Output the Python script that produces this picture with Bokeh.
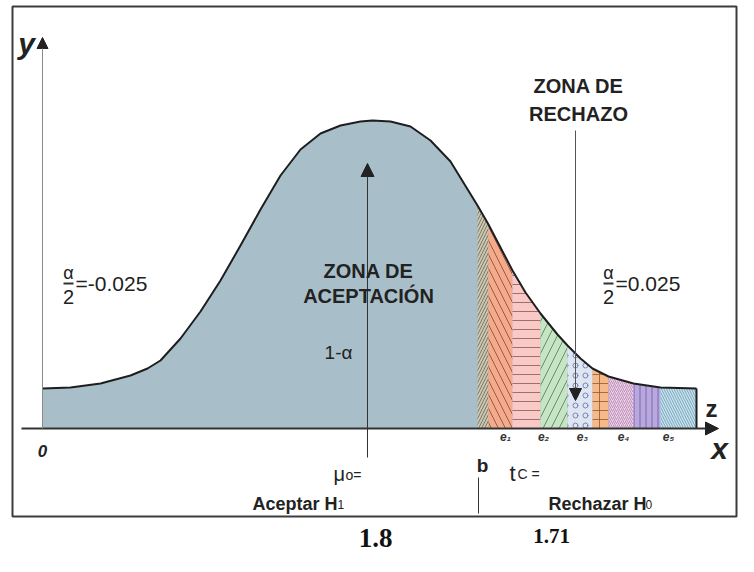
import numpy as np
from bokeh.plotting import figure
from bokeh.models import Range1d, Arrow, NormalHead, Label
from bokeh.embed import file_html
from bokeh.resources import INLINE

# Curve: horizontal position and height above the x axis
curve_x = [42, 70, 100, 130, 147, 160, 180, 200, 220, 240, 260, 280, 300, 320, 340,
           360, 372, 390, 410, 430, 450, 477, 488, 500, 512, 525, 540, 557, 567, 580,
           592, 608, 633, 660, 696]
curve_y = [40, 41, 45, 53, 60, 68, 90, 117, 148, 183, 219, 253, 279, 295, 303,
           307, 308, 307, 302, 288, 267, 223, 204, 181, 158, 136, 115, 94, 83, 70,
           60, 52, 45, 41, 40]

# Rejection-zone strips (edges along the x axis)
strip_edges = [477, 488, 512, 540, 567, 592, 608, 633, 660, 696]
strip_colors = ["#cbc6b0", "#f5aa8c", "#f9c9c7", "#c6e5c4", "#dfe5f3",
                "#f8b98a", "#f2cdea", "#b9a7e0", "#c4e6f5"]
strip_hatches = ["/", "\\", "-", "/", "o", "+", "/", "|", "\\"]
strip_hatch_colors = ["#6b6658", "#7a4a3a", "#8a5555", "#4d7a4d", "#5a6fa0",
                      "#8a5a2a", "#a888a8", "#6a5a9a", "#6f8fa0"]
strip_hatch_scales = [6, 14, 9, 16, 10, 9, 4, 6, 5]

e_labels = ["e\u2081", "e\u2082", "e\u2083", "e\u2084", "e\u2085"]
e_label_x = [505, 543, 582, 623, 668]

alpha_left = "=-0.025"
alpha_right = "=0.025"
value_mu = "1.8"
value_tc = "1.71"

FONT = "Liberation Sans"

p = figure(width=738, height=556, x_range=Range1d(0, 738), y_range=Range1d(-128, 428),
           output_backend="svg", toolbar_location=None, min_border=0)
p.axis.visible = False
p.grid.visible = False
p.outline_line_color = None
p.background_fill_color = "white"
p.border_fill_color = "white"

# outer frame
p.quad(left=12, right=736, bottom=-88, top=422, fill_color=None,
       line_color="#3c3c3c", line_width=2)

# main area under the curve
p.varea(x=curve_x, y1=0, y2=curve_y, fill_color="#a8bfca")

# hatched strips
for i in range(len(strip_edges) - 1):
    lo, hi = strip_edges[i], strip_edges[i + 1]
    xs = [x for x in curve_x if lo <= x <= hi]
    ys = [y for x, y in zip(curve_x, curve_y) if lo <= x <= hi]
    p.varea(x=xs, y1=0, y2=ys, fill_color=strip_colors[i],
            hatch_pattern=strip_hatches[i], hatch_color=strip_hatch_colors[i],
            hatch_scale=strip_hatch_scales[i], hatch_weight=0.8)

# curve outline and right edge
p.line(curve_x, curve_y, line_color="#1e1e1e", line_width=2, line_join="round")
p.segment(x0=[curve_x[-1]], y0=[0], x1=[curve_x[-1]], y1=[curve_y[-1]],
          line_color="#1e1e1e", line_width=2)

# axes
p.add_layout(Arrow(end=NormalHead(size=13, fill_color="#222222", line_color="#222222"),
                   x_start=21, y_start=0, x_end=718, y_end=0,
                   line_color="#333333", line_width=2))
p.add_layout(Arrow(end=NormalHead(size=11, fill_color="#222222", line_color="#222222"),
                   x_start=42, y_start=0, x_end=42, y_end=391,
                   line_color="#8a8a8a", line_width=1))
# mean arrow
p.add_layout(Arrow(end=NormalHead(size=13, fill_color="#222222", line_color="#222222"),
                   x_start=367, y_start=-29, x_end=367, y_end=265,
                   line_color="#333333", line_width=1))
# rejection zone arrow
p.add_layout(Arrow(end=NormalHead(size=12, fill_color="#222222", line_color="#222222"),
                   x_start=575, y_start=298, x_end=575, y_end=28,
                   line_color="#555555", line_width=1))
# b marker line
p.segment(x0=[478], y0=[-49], x1=[478], y1=[-85], line_color="#333333", line_width=1)

# fraction bars
p.segment(x0=[63, 603], y0=[145, 145], x1=[73, 613], y1=[145, 145],
          line_color="#333333", line_width=2)


def lab(x, y, t, size, style="normal", align="center", base="middle", font=FONT, color="#222222"):
    p.add_layout(Label(x=x, y=y, text=t, text_font=font, text_font_size=f"{size}px",
                       text_font_style=style, text_align=align, text_baseline=base,
                       text_color=color))


lab(26, 385, "y", 30, "bold italic")
lab(42, -22, "0", 17, "bold italic")
lab(719, -20, "x", 30, "bold italic")
lab(711, 20, "z", 24, "bold")

lab(68, 156, "\u03b1", 18)
lab(68, 132, "2", 20)
lab(75, 145, alpha_left, 21, align="left")
lab(608, 156, "\u03b1", 18)
lab(608, 132, "2", 20)
lab(615, 145, alpha_right, 21, align="left")

lab(368, 158, "ZONA DE", 20, "bold")
lab(368, 133, "ACEPTACI\u00d3N", 20, "bold")
lab(338, 76, "1-\u03b1", 19)
lab(578, 343, "ZONA DE", 20, "bold")
lab(578, 315, "RECHAZO", 20, "bold")

lab(333, -45, "\u03bc", 20, align="left", base="alphabetic")
lab(345, -46, "o=", 14, align="left", base="alphabetic")
lab(482, -37, "b", 19, "bold")
lab(509, -45, "t", 22, align="left", base="alphabetic")
lab(517, -45, "C =", 14, align="left", base="alphabetic")
lab(252, -75, "Aceptar H", 18, "bold", align="left", base="alphabetic")
lab(337, -76, "1", 12, align="left", base="alphabetic")
lab(548, -75, "Rechazar H", 18, "bold", align="left", base="alphabetic")
lab(645, -76, "0", 12, align="left", base="alphabetic")

for t, x in zip(e_labels, e_label_x):
    lab(x, -8, t, 12, "bold italic", color="#333333")

lab(375, -109, value_mu, 27, "bold", base="alphabetic", font="Liberation Serif", color="#111111")
lab(551, -107, value_tc, 21, "bold", base="alphabetic", font="Liberation Serif", color="#111111")

open("out.html", "w").write(file_html(p, INLINE))
